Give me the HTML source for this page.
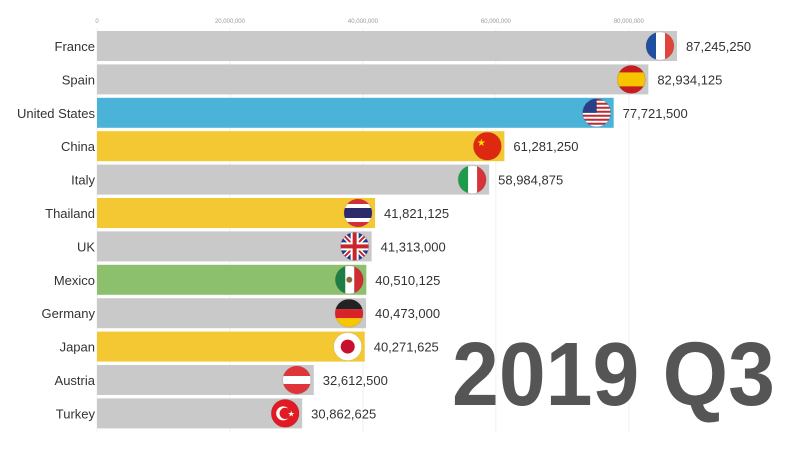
<!DOCTYPE html>
<html><head><meta charset="utf-8"><style>
body{margin:0;background:#fff;width:800px;height:450px;overflow:hidden;font-family:"Liberation Sans",sans-serif}
</style></head><body>
<svg id="chart" width="800" height="450" xmlns="http://www.w3.org/2000/svg">
<defs>
<clipPath id="fc"><circle cx="0" cy="0" r="14"/></clipPath>
</defs>
<g id="grid"></g>
<g id="bars"></g>
<text x="775" y="405" text-anchor="end" font-size="90" font-weight="bold" fill="#555" textLength="323" lengthAdjust="spacingAndGlyphs" font-family="Liberation Sans, sans-serif">2019 Q3</text>
</svg>
<script>
const categories=["France","Spain","United States","China","Italy","Thailand","UK","Mexico","Germany","Japan","Austria","Turkey"];
const values=[87245250,82934125,77721500,61281250,58984875,41821125,41313000,40510125,40473000,40271625,32612500,30862625];
const colors=["#c9c9c9","#c9c9c9","#4bb2d8","#f4c832","#c9c9c9","#f4c832","#c9c9c9","#8dc06c","#c9c9c9","#f4c832","#c9c9c9","#c9c9c9"];
const ticks=[0,20000000,40000000,60000000,80000000];
const tickLabels=["0","20,000,000","40,000,000","60,000,000","80,000,000"];
const NS="http://www.w3.org/2000/svg";
const x=v=>97+v*(580/87245250);
const y=i=>31+i*33.4;
const bh=30;
function mk(t,a,p){const e=document.createElementNS(NS,t);for(const k in a)e.setAttribute(k,a[k]);p.appendChild(e);return e;}
const grid=document.getElementById('grid');
ticks.forEach((t,i)=>{
 const l=mk('line',{x1:x(t),x2:x(t),y1:28,y2:432,stroke:'#f0f0f0','stroke-width':1},grid);
 
 
 const tx=mk('text',{x:x(t),y:23,'text-anchor':'middle','font-size':6,fill:'#999'},grid);
 tx.textContent=tickLabels[i];
 
 
});
function flag(name,g){
 const f=mk('g',{'clip-path':'url(#fc)'},g);
 const r=(a)=>mk('rect',a,f);
 switch(name){
 case"France":r({x:-14,y:-14,width:10,height:28,fill:'#1f4fa0'});r({x:-4,y:-14,width:9,height:28,fill:'#fff'});r({x:5,y:-14,width:10,height:28,fill:'#e0453c'});break;
 case"Spain":r({x:-14,y:-14,width:28,height:28,fill:'#c81b1f'});r({x:-14,y:-7,width:28,height:14,fill:'#f7c400'});break;
 case"United States":for(let k=0;k<7;k++){r({x:-14,y:-14+k*4,width:28,height:2,fill:'#c8262b'});r({x:-14,y:-12+k*4,width:28,height:2,fill:'#fff'});}r({x:-14,y:-14,width:14,height:14,fill:'#2b3f86'});break;
 case"China":r({x:-14,y:-14,width:28,height:28,fill:'#de2910'});mk('text',{x:-6,y:0,'font-size':10,fill:'#ffde00','text-anchor':'middle'},f).textContent='★';break;
 case"Italy":r({x:-14,y:-14,width:10,height:28,fill:'#1f9b4a'});r({x:-4,y:-14,width:9,height:28,fill:'#fff'});r({x:5,y:-14,width:10,height:28,fill:'#d8333a'});break;
 case"Thailand":r({x:-14,y:-14,width:28,height:28,fill:'#d42e3a'});r({x:-14,y:-9,width:28,height:18,fill:'#fff'});r({x:-14,y:-5,width:28,height:10,fill:'#2d2a6b'});break;
 case"UK":r({x:-14,y:-14,width:28,height:28,fill:'#1f3a8a'});mk('path',{d:'M-14,-14L14,14M14,-14L-14,14',stroke:'#fff','stroke-width':5},f);mk('path',{d:'M-14,-14L14,14M14,-14L-14,14',stroke:'#c8262b','stroke-width':2},f);r({x:-14,y:-4,width:28,height:8,fill:'#fff'});r({x:-4,y:-14,width:8,height:28,fill:'#fff'});r({x:-14,y:-2,width:28,height:4,fill:'#c8262b'});r({x:-2,y:-14,width:4,height:28,fill:'#c8262b'});break;
 case"Mexico":r({x:-14,y:-14,width:10,height:28,fill:'#1e7d45'});r({x:-4,y:-14,width:9,height:28,fill:'#fff'});r({x:5,y:-14,width:10,height:28,fill:'#cf2c36'});mk('circle',{r:3,fill:'#8a6b3c'},f);break;
 case"Germany":r({x:-14,y:-14,width:28,height:10,fill:'#222'});r({x:-14,y:-4,width:28,height:9,fill:'#d8232a'});r({x:-14,y:5,width:28,height:10,fill:'#f7c800'});break;
 case"Japan":r({x:-14,y:-14,width:28,height:28,fill:'#fff'});mk('circle',{r:7,fill:'#c8102e'},f);break;
 case"Austria":r({x:-14,y:-14,width:28,height:28,fill:'#e0343b'});r({x:-14,y:-4,width:28,height:8,fill:'#fff'});break;
 case"Turkey":r({x:-14,y:-14,width:28,height:28,fill:'#e11a23'});mk('circle',{cx:-2,r:7,fill:'#fff'},f);mk('circle',{cx:0,r:5.6,fill:'#e11a23'},f);mk('text',{x:6,y:3,'font-size':8,fill:'#fff','text-anchor':'middle'},f).textContent='★';break;
 }
 mk('circle',{r:14,fill:'none',stroke:'rgba(0,0,0,0.08)','stroke-width':1},g);
}
const bars=document.getElementById('bars');
categories.forEach((c,i)=>{
 const yy=y(i),xe=x(values[i]);
 const lab=mk('text',{x:95,y:yy+bh/2+5,'text-anchor':'end','font-size':13,fill:'#333'},bars);
 lab.textContent=c;
 
 
 const b=mk('rect',{x:x(0),y:yy,width:xe-x(0),height:bh,fill:colors[i]},bars);
 
 
 const g=mk('g',{transform:`translate(${xe-17},${yy+bh/2})`},bars);
 
 
 flag(c,g);
 const v=mk('text',{x:xe+9,y:yy+bh/2+5,'font-size':13,fill:'#333'},bars);
 v.textContent=values[i].toLocaleString('en-US');
 
 
});
</script>
</body></html>
